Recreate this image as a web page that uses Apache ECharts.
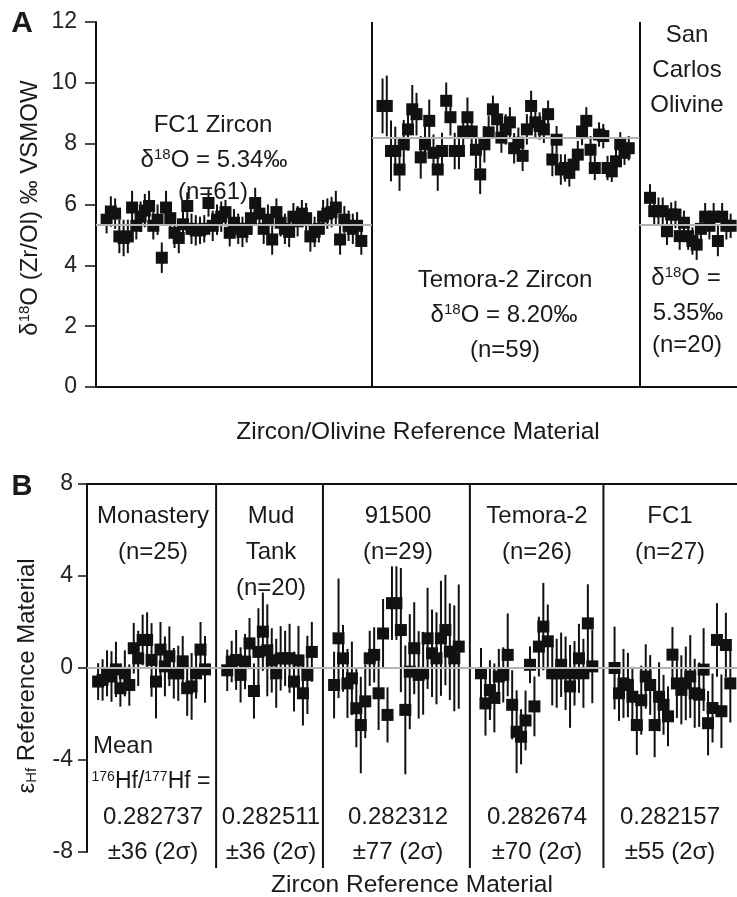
<!DOCTYPE html>
<html><head><meta charset="utf-8">
<script src="https://cdn.jsdelivr.net/npm/echarts@6/dist/echarts.min.js"></script>
<style>html,body{margin:0;padding:0;background:#fff}#c{width:737px;height:897px}</style>
</head><body><div id="c"></div>
<script>
// ---------- Panel A : delta18O (per mil VSMOW) ----------
var aNames = ['FC1 Zircon', 'Temora-2 Zircon', 'San Carlos Olivine'];
var aMeans = [5.34, 8.20, 5.35];
var aFC1 = [5.5,5.77,5.7,4.95,4.9,4.95,5.9,5.3,5.6,5.8,
  5.95,5.3,5.5,4.25,5.9,5.55,5.07,4.9,5.35,5.95,
  5.2,5.15,5.15,5.2,6.05,5.3,5.5,5.6,5.75,5.07,
  5.4,5.2,5.1,5.2,5.55,6.05,5.7,5.2,5.5,4.85,
  5.75,5.4,5.2,5.1,5.6,5.45,5.7,5.55,4.95,5.1,
  5.2,5.6,5.7,5.75,5.9,4.85,5.5,5.3,5.2,5.3,
  4.8];
var aFC1Err = [0.45,0.5,0.5,0.55,0.6,0.55,0.55,0.45,0.5,0.55,
  0.5,0.45,0.5,0.5,0.55,0.5,0.5,0.5,0.45,0.45,
  0.5,0.5,0.45,0.45,0.45,0.5,0.5,0.5,0.4,0.45,
  0.45,0.5,0.5,0.45,0.55,0.5,0.45,0.5,0.5,0.5,
  0.45,0.45,0.5,0.5,0.45,0.5,0.45,0.5,0.5,0.5,
  0.45,0.55,0.5,0.5,0.55,0.5,0.45,0.5,0.5,0.45,
  0.45];
var aTem = [9.24,9.24,7.76,7.76,7.15,7.98,8.47,9.13,8.97,7.55,
  7.98,8.75,7.7,7.15,7.76,9.41,8.87,7.76,7.76,8.4,
  8.87,8.4,7.8,6.99,7.98,8.37,9.13,8.8,8.2,8.47,
  8.7,7.85,8.03,7.6,8.47,9.24,8.7,8.58,8.47,8.97,
  7.48,8.13,7.15,7.2,7.04,7.31,7.64,8.4,8.75,7.8,
  7.2,8.3,8.25,7.2,7.09,7.42,7.98,7.7,7.85];
var aTemErr = [0.9,1.0,1.0,0.8,0.7,0.8,0.7,0.8,0.7,0.7,
  0.6,0.7,0.6,0.7,0.6,0.6,0.6,0.6,0.6,0.6,
  0.65,0.6,0.6,0.65,0.6,0.55,0.45,0.5,0.5,0.5,
  0.5,0.5,0.5,0.5,0.5,0.5,0.5,0.45,0.45,0.45,
  0.55,0.45,0.5,0.45,0.45,0.45,0.45,0.45,0.45,0.45,
  0.4,0.4,0.4,0.4,0.35,0.4,0.4,0.4,0.4];
var aSC = [6.22,5.78,5.78,5.78,5.12,5.67,5.67,4.96,5.4,4.96,
  4.8,4.68,5.2,5.6,5.3,5.6,4.8,5.6,5.3,5.3];
var aSCErr = [0.45,0.45,0.45,0.45,0.45,0.4,0.45,0.45,0.4,0.45,
  0.45,0.5,0.45,0.45,0.45,0.45,0.5,0.45,0.45,0.4];
var aTicks = [0, 2, 4, 6, 8, 10, 12];

// ---------- Panel B : epsilon Hf ----------
var bNames = ['Monastery', 'Mud Tank', '91500', 'Temora-2', 'FC1'];
var bMon = [-0.59,-0.52,-0.23,-0.37,-0.06,-0.88,-0.23,-0.74,0.86,0.42,1.22,1.22,0.35,-0.59,0.8,0.07,0.51,-0.23,-0.23,0.29,-0.88,-0.8,-0.23,0.8,-0.06];
var bMonErr = [0.8,0.9,1.0,1.1,1.2,0.8,1.0,0.9,1.1,1.2,1.1,1.2,1.6,1.6,1.2,1.3,1.3,1.1,1.2,1.1,1.2,1.45,1.1,1.2,1.45];
var bMud = [-0.1,0.28,0.35,-0.3,0.28,1.07,-1.0,0.7,1.58,0.77,0.33,-0.23,0.42,0.42,0.42,-0.59,0.33,-1.1,-0.3,0.7];
var bMudErr = [0.9,0.9,1.3,1.2,1.2,1.1,1.2,1.9,1.7,2.0,1.4,1.5,1.4,1.2,1.5,1.3,1.5,1.4,1.7,1.3];
var b915 = [-0.74,1.29,0.42,-0.67,-0.45,-1.75,-2.48,-1.45,0.42,0.57,-1.1,1.5,-2.04,2.82,2.82,1.65,-1.82,-0.16,0.86,-0.3,-0.23,1.29,0.64,0.42,1.29,1.65,0.71,0.42,0.93];
var b915Err = [1.45,2.6,1.45,1.5,1.6,1.7,2.1,1.6,1.2,1.2,1.6,1.5,1.2,1.6,1.6,2.7,2.8,2.5,2.0,1.9,1.8,2.2,1.9,2.0,2.5,2.4,2.1,2.3,2.7];
var bTem = [-0.23,-1.54,-0.96,-1.3,-0.37,-0.3,0.57,-1.6,-2.77,-2.99,-2.28,0.14,-1.67,0.93,1.8,1.16,-0.23,-0.23,0.14,-0.23,-0.8,-0.23,0.42,-0.23,1.94,0.07];
var bTemErr = [1.1,1.4,1.3,1.5,1.2,1.2,1.8,1.5,1.8,1.2,1.3,0.8,1.3,1.3,1.9,1.6,1.4,1.5,1.4,1.6,1.8,1.4,1.5,1.5,1.7,1.6];
var bFC1 = [0,-1.1,-0.67,-0.74,-1.25,-2.48,-1.4,-0.37,-0.74,-2.48,-1.25,-1.6,-2.1,0.58,-0.67,-0.95,-0.67,-0.37,-1.1,-1.16,-0.07,-2.4,-1.74,1.22,-1.88,1.0,-0.67];
var bFC1Err = [1.8,1.2,1.5,1.4,1.3,1.3,1.5,1.4,1.3,1.4,1.5,1.3,1.3,1.2,1.5,1.5,1.6,1.8,1.5,1.4,1.8,1.4,1.5,1.6,1.6,1.4,1.7];
var bCounts = ['(n=25)', '(n=20)', '(n=29)', '(n=26)', '(n=27)'];
var bHfRatio = ['0.282737', '0.282511', '0.282312', '0.282674', '0.282157'];
var bHfUnc = ['±36 (2σ)', '±36 (2σ)', '±77 (2σ)', '±70 (2σ)', '±55 (2σ)'];
var bTicks = [-8, -4, 0, 4, 8];

// ---------- build ----------
var FF = '"Liberation Sans", Arial, Helvetica, sans-serif';
var INK = '#1a1a1a';
var GAP = 4; // empty category slots between groups

function build(groups) {
  var pts = [], errs = [], divs = [], spans = [];
  var x = 3;
  groups.forEach(function (g) {
    var s = x;
    g.v.forEach(function (v, i) {
      pts.push([s + i, v]);
      errs.push([s + i, v - g.e[i], v + g.e[i]]);
    });
    var last = s + g.v.length - 1;
    spans.push([s, last]);
    x = last + 1 + GAP;
  });
  for (var i = 0; i < spans.length - 1; i++) divs.push((spans[i][1] + spans[i + 1][0]) / 2);
  return { pts: pts, errs: errs, divs: divs, spans: spans, end: spans[spans.length - 1][1] };
}
var A = build([{ v: aFC1, e: aFC1Err }, { v: aTem, e: aTemErr }, { v: aSC, e: aSCErr }]);
var B = build([{ v: bMon, e: bMonErr }, { v: bMud, e: bMudErr }, { v: b915, e: b915Err }, { v: bTem, e: bTemErr }, { v: bFC1, e: bFC1Err }]);
var aMin = 0.5, aMax = A.end + 1.5, bMin = 0.5, bMax = B.end + 1.5;

function errItem(params, api) {
  var p1 = api.coord([api.value(0), api.value(1)]);
  var p2 = api.coord([api.value(0), api.value(2)]);
  return { type: 'line', shape: { x1: p1[0], y1: p1[1], x2: p2[0], y2: p2[1] }, style: { stroke: '#111', lineWidth: 2 } };
}
// panel B group dividers: span the full value range, continued a little below the axis floor
function divItem(params, api) {
  var p1 = api.coord([api.value(0), bTicks[bTicks.length - 1]]);
  var p2 = api.coord([api.value(0), bTicks[0]]);
  return { type: 'line', shape: { x1: p1[0], y1: p1[1], x2: p2[0], y2: p2[1] + 16 }, style: { stroke: '#111', lineWidth: 2 } };
}

var aBounds = [aMin].concat(A.divs).concat([aMax]);
var aMeanLines = aMeans.map(function (m, i) {
  return [{ coord: [aBounds[i], m], lineStyle: { color: '#b3b3b3', width: 2, type: 'solid' } }, { coord: [aBounds[i + 1], m] }];
});
var divStyle = { color: '#111', width: 2, type: 'solid' };

var rich = {
  b: { fontSize: 24, fontFamily: FF, color: INK },
  s: { fontSize: 15, fontFamily: FF, color: INK, verticalAlign: 'top', padding: [0, 0, 10, 0] },
  t: { fontSize: 14, fontFamily: FF, color: INK, verticalAlign: 'top', padding: [0, 0, 10, 0] },
  c: { fontSize: 23, fontFamily: FF, color: INK },
  u: { fontSize: 15, fontFamily: FF, color: INK, verticalAlign: 'bottom', padding: [10, 0, 0, 0] }
};
function T(x, y, text, extra) {
  var st = { text: text, x: 0, y: 0, fill: INK, fontSize: 24, fontFamily: FF,
    align: 'center', verticalAlign: 'middle', textAlign: 'center', textVerticalAlign: 'middle', rich: rich };
  if (extra) for (var k in extra) st[k] = extra[k];
  return { type: 'text', x: x, y: y, silent: true, z: 10, style: st };
}

var g = [];
g.push(T(22, 24, 'A', { fontSize: 30, fontWeight: 'bold' }));
g.push(T(22, 487, 'B', { fontSize: 29, fontWeight: 'bold' }));
g.push(T(30, 208, '{b|δ}{s|18}{b|O (Zr/Ol) ‰ VSMOW}', { fontSize: 23 }));
g[g.length - 1].rotation = Math.PI / 2;
g.push(T(27, 676, '{b|ε}{u|Hf}{b| Reference Material}'));
g[g.length - 1].rotation = Math.PI / 2;
g.push(T(418, 432, 'Zircon/Olivine Reference Material', { fontSize: 24.5 }));
g.push(T(412, 885, 'Zircon Reference Material', { fontSize: 24.5 }));
// panel A annotations
g.push(T(213, 125, 'FC1 Zircon'));
g.push(T(214, 160, '{b|δ}{s|18}{b|O = ' + aMeans[0].toFixed(2) + '‰}'));
g.push(T(213, 192, '(n=' + aFC1.length + ')'));
g.push(T(505, 280, 'Temora-2 Zircon'));
g.push(T(504, 315, '{b|δ}{s|18}{b|O = ' + aMeans[1].toFixed(2) + '‰}'));
g.push(T(505, 350, '(n=' + aTem.length + ')'));
g.push(T(687, 35, 'San'));
g.push(T(687, 70, 'Carlos'));
g.push(T(687, 105, 'Olivine'));
g.push(T(686, 278, '{b|δ}{s|18}{b|O =}'));
g.push(T(688, 313, aMeans[2].toFixed(2) + '‰'));
g.push(T(687, 345, '(n=' + aSC.length + ')'));
// panel B annotations
var bCx = [153, 271, 398, 537, 670];
g.push(T(bCx[0], 516, bNames[0]));
g.push(T(bCx[0], 552, bCounts[0]));
g.push(T(bCx[1], 516, 'Mud'));
g.push(T(bCx[1], 552, 'Tank'));
g.push(T(bCx[1], 588, bCounts[1]));
for (var i = 2; i < 5; i++) {
  g.push(T(bCx[i], 516, bNames[i]));
  g.push(T(bCx[i], 552, bCounts[i]));
}
g.push(T(123, 746, 'Mean'));
g.push(T(151, 782, '{t|176}{c|Hf/}{t|177}{c|Hf =}'));
for (var j = 0; j < 5; j++) {
  g.push(T(bCx[j], 817, bHfRatio[j]));
  g.push(T(bCx[j], 852, bHfUnc[j]));
}

var axisLineStyle = { color: '#111', width: 2 };
var option = {
  animation: false,
  backgroundColor: '#fff',
  grid: [
    { left: 96, right: 0, top: 22, height: 365 },
    { left: 87, right: 0, top: 484, height: 368 }
  ],
  xAxis: [
    { gridIndex: 0, type: 'value', min: aMin, max: aMax, axisLine: { show: true, onZero: false, lineStyle: axisLineStyle },
      axisTick: { show: false }, axisLabel: { show: false }, splitLine: { show: false } },
    { gridIndex: 1, type: 'value', position: 'top', min: bMin, max: bMax, axisLine: { show: true, onZero: false, lineStyle: axisLineStyle },
      axisTick: { show: false }, axisLabel: { show: false }, splitLine: { show: false } }
  ],
  yAxis: [
    { gridIndex: 0, type: 'value', min: aTicks[0], max: aTicks[aTicks.length - 1], interval: 2,
      axisLine: { show: true, lineStyle: axisLineStyle }, axisTick: { show: true, length: 11, lineStyle: { color: '#111', width: 1.5 } },
      axisLabel: { fontSize: 23, fontFamily: FF, color: '#222', margin: 19 }, splitLine: { show: false } },
    { gridIndex: 1, type: 'value', min: bTicks[0], max: bTicks[bTicks.length - 1], interval: 4,
      axisLine: { show: true, onZero: false, lineStyle: axisLineStyle }, axisTick: { show: true, length: 9, lineStyle: { color: '#111', width: 1.5 } },
      axisLabel: { fontSize: 23, fontFamily: FF, color: '#222', margin: 14 }, splitLine: { show: false } }
  ],
  series: [
    { type: 'custom', xAxisIndex: 0, yAxisIndex: 0, renderItem: errItem, data: A.errs, encode: { x: 0, y: [1, 2] }, z: 2, silent: true },
    { type: 'scatter', xAxisIndex: 0, yAxisIndex: 0, data: A.pts, symbol: 'rect', symbolSize: 12, itemStyle: { color: '#111', opacity: 1 }, z: 3, silent: true,
      markLine: { silent: true, symbol: ['none', 'none'], label: { show: false },
        data: A.divs.map(function (d) { return { xAxis: d, lineStyle: divStyle }; }).concat(aMeanLines) } },
    { type: 'custom', xAxisIndex: 1, yAxisIndex: 1, renderItem: divItem, data: B.divs.map(function (d) { return [d]; }), encode: { x: 0 }, z: 2, silent: true, clip: false },
    { type: 'custom', xAxisIndex: 1, yAxisIndex: 1, renderItem: errItem, data: B.errs, encode: { x: 0, y: [1, 2] }, z: 2, silent: true },
    { type: 'scatter', xAxisIndex: 1, yAxisIndex: 1, data: B.pts, symbol: 'rect', symbolSize: 12, itemStyle: { color: '#111', opacity: 1 }, z: 3, silent: true,
      markLine: { silent: true, symbol: ['none', 'none'], label: { show: false },
        data: [{ yAxis: 0, lineStyle: { color: '#b3b3b3', width: 2, type: 'solid' } }] } }
  ],
  graphic: g
};
var chart = echarts.init(document.getElementById('c'), null, { renderer: 'canvas' });
chart.setOption(option);
</script></body></html>
